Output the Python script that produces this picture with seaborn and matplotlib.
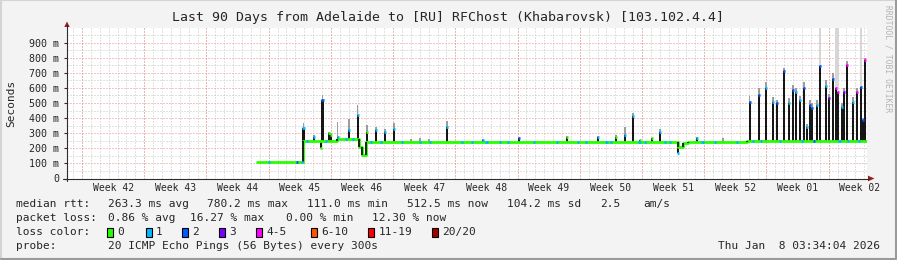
import matplotlib
matplotlib.use("Agg")
import matplotlib.pyplot as plt
from matplotlib.lines import Line2D
from matplotlib.patches import Rectangle, Polygon
import numpy as np
import pandas as pd
import seaborn as sns

# ---------------- data ----------------
title = "Last 90 Days from Adelaide to [RU] RFChost (Khabarovsk) [103.102.4.4]"

# median baseline (step function), x = days since start of the 90-day window, y = ms
base_day = [21.37, 26.50, 30.40, 32.90, 33.20, 33.65, 36.90, 68.70, 69.30, 69.86, 76.50, 89.95]
base_ms = [110, 250, 262, 209, 155, 244, 242, 209, 233, 242, 248, 248]

# spikes / dips: median peak, smoke top, loss colour index
spike_day = [26.60, 27.79, 28.57, 28.75, 29.45, 29.70, 30.45, 31.72, 32.70, 33.75, 34.76, 35.77, 36.79,
             38.70, 39.71, 40.72, 42.75, 46.80, 50.85, 56.25, 59.74, 61.76, 62.77, 63.67, 64.46, 65.81,
             66.71, 68.74, 70.87, 73.80,
             76.80, 77.85, 78.64, 79.42, 79.87, 80.66, 81.22, 81.67, 82.00, 82.46, 82.91, 83.25, 83.59,
             83.80, 84.37, 84.71, 85.39, 85.73, 86.17, 86.51, 86.73, 87.18, 87.40, 87.75, 88.42, 88.87,
             89.32, 89.55, 89.78]
spike_ms = [335, 273, 200, 520, 300, 285, 275, 320, 420, 309, 320, 309, 327,
            242, 242, 242, 340, 252, 265, 275, 273, 275, 287, 413, 253, 265,
            309, 167, 265, 242,
            509, 553, 598, 509, 500, 709, 500, 587, 575, 520, 600, 342, 487,
            470, 487, 742, 613, 533, 660, 600, 573, 473, 573, 753, 509, 575,
            609, 387, 787]
spike_smoke_ms = [370, 285, 200, 555, 310, 300, 373, 395, 490, 353, 340, 330, 370,
                  262, 265, 262, 380, 262, 270, 280, 280, 285, 342, 433, 255, 270,
                  327, 167, 275, 265,
                  545, 600, 642, 540, 520, 733, 530, 620, 600, 545, 640, 360, 520,
                  500, 520, 1000, 650, 560, 700, 1000, 1000, 500, 600, 780, 540, 600,
                  1000, 400, 800]
spike_loss = [1, 1, 0, 2, 0, 0, 1, 1, 1, 0, 1, 1, 1,
              0, 0, 0, 1, 1, 2, 0, 1, 0, 1, 1, 0, 0,
              1, 1, 1, 0,
              2, 2, 1, 1, 2, 2, 1, 2, 1, 1, 2, 1, 2,
              2, 1, 2, 1, 3, 2, 4, 4, 1, 3, 4, 1, 4,
              2, 2, 4]

# loss marks sitting on the baseline
dot_day = [22.70, 25.90, 26.40, 27.00, 29.10, 31.40, 32.20, 34.20, 35.30, 37.65, 39.70, 40.80, 44.40,
           45.60, 47.20, 48.70, 49.60, 52.50, 55.10, 57.50, 58.40, 60.70, 61.20, 64.40, 65.00, 67.30,
           67.80, 71.50, 72.90, 75.40, 77.20, 78.10, 80.20, 82.70, 84.00, 86.90, 87.90, 89.10]
dot_loss = [1, 2, 1, 1, 1, 1, 1, 1, 1, 1, 1, 1, 1,
            1, 1, 1, 1, 1, 1, 1, 1, 1, 1, 1, 1, 1,
            1, 1, 1, 1, 1, 1, 1, 1, 2, 1, 1, 1]

loss_labels = ["0", "1", "2", "3", "4-5", "6-10", "11-19", "20/20"]
loss_colors = ["#26ff00", "#00b8ff", "#0059ff", "#7e00ff", "#ff00ff", "#ff5500", "#ff0000", "#a10000"]

week_labels = ["Week 42", "Week 43", "Week 44", "Week 45", "Week 46", "Week 47", "Week 48",
               "Week 49", "Week 50", "Week 51", "Week 52", "Week 01", "Week 02"]
y_ticks_ms = [0, 100, 200, 300, 400, 500, 600, 700, 800, 900]
y_tick_labels = ["0", "100 m", "200 m", "300 m", "400 m", "500 m", "600 m", "700 m", "800 m", "900 m"]

rtt_stats = ["263.3 ms avg", "780.2 ms max", "111.0 ms min", "512.5 ms now", "104.2 ms sd", "2.5", "am/s"]
loss_stats = ["0.86 % avg", "16.27 % max", "0.00 % min", "12.30 % now"]
probe_text = "20 ICMP Echo Pings (56 Bytes) every 300s"
stamp_text = "Thu Jan  8 03:34:04 2026"

# ---------------- style ----------------
sns.set_style("white")
plt.rcParams['font.family'] = ['DejaVu Sans Mono']

W, H = 897, 260
fig = plt.figure(figsize=(W / 100, H / 100), dpi=100)
fig.patch.set_facecolor('#f3f3f3')


def fx(px):
    return px / W


def fy(py):
    return 1 - py / H


ax = fig.add_axes([fx(67), fy(178.5), 800 / W, 151 / H])
ax.set_facecolor('white')
ax.set_xlim(0, 90)
ax.set_ylim(0, 1000)
for s in ax.spines.values():
    s.set_visible(False)

# grid
day0 = 1.69
minor_days = [day0 - 1 + k for k in range(0, 92) if 0 < day0 - 1 + k < 90]
week_bounds = [day0 + 7 * k for k in range(13)]
dots = (0, (1, 2))
ax.vlines(minor_days, 0, 1000, colors='#c4c4c4', lw=0.72, linestyles=dots, zorder=0)
ax.hlines([v + 50 for v in y_ticks_ms], 0, 90, colors='#c4c4c4', lw=0.72, linestyles=dots, zorder=0)
ax.vlines(week_bounds, 0, 1000, colors='#f28c8c', lw=0.72, linestyles=dots, zorder=1)
ax.hlines(y_ticks_ms[1:], 0, 90, colors='#f28c8c', lw=0.72, linestyles=dots, zorder=1)

bd = np.array(base_day)
bm = np.array(base_ms, dtype=float)


def base_at(d):
    i = np.searchsorted(bd, d, side='right') - 1
    return bm[np.clip(i, 0, len(bm) - 1)]


sd = np.array(spike_day)
st = np.array(spike_ms, dtype=float)
ss = np.array(spike_smoke_ms, dtype=float)
sl = np.array(spike_loss)
sb = base_at(sd)

# smoke above the median peaks
lo = np.maximum(st, sb)
smoke_cols = np.array(['#d6d6d6' if v >= 1000 else '#9c9c9c' for v in ss])
m = ss > lo
ax.bar(sd[m], (ss - lo)[m], bottom=lo[m], width=0.17, color=list(smoke_cols[m]), linewidth=0, zorder=2)

# dark spike columns
m2 = st != sb
ax.bar(sd[m2], (st - sb)[m2], bottom=sb[m2], width=0.26, color='#161616', linewidth=0, zorder=3)

# median baseline drawn through seaborn
df = pd.DataFrame({'day': base_day, 'ms': base_ms})
sns.lineplot(data=df, x='day', y='ms', ax=ax, drawstyle='steps-post', color=loss_colors[0],
             linewidth=2.0, estimator=None, legend=False, zorder=4)

# dark vertical connectors where the baseline level changes
ax.vlines(bd[1:], bm[:-1], bm[1:], colors='#161616', lw=1.3, zorder=4.5)

# coloured median marks at spike tops
ax.hlines(st[m2], sd[m2] - 0.13, sd[m2] + 0.13, colors=[loss_colors[i] for i in sl[m2]], lw=2.0, zorder=5)

# loss marks on the baseline
dd = np.array(dot_day)
ax.hlines(base_at(dd), dd - 0.13, dd + 0.13, colors=[loss_colors[i] for i in dot_loss], lw=2.0, zorder=5)

ax.set_xlabel('')
ax.set_ylabel('')
ax.set_yticks(y_ticks_ms)
ax.set_yticklabels(y_tick_labels, fontsize=7.2)
ax.tick_params(axis='y', length=2, width=0.8, color='#2c2c2c', pad=3.6, left=True)
ax.set_xticks([b + 3.5 for b in week_bounds])
ax.set_xticklabels(week_labels, fontsize=7)
ax.tick_params(axis='x', length=0, pad=3.2)

# axes lines and arrows
fig.add_artist(Line2D([fx(67), fx(67)], [fy(181), fy(25)], color='#2c2c2c', lw=0.8))
fig.add_artist(Line2D([fx(63), fx(869)], [fy(178.5), fy(178.5)], color='#2c2c2c', lw=0.8))
fig.add_artist(Polygon([[fx(64.3), fy(27)], [fx(69.7), fy(27)], [fx(67), fy(21.5)]], closed=True,
                       facecolor='#9b1c1c', edgecolor='none'))
fig.add_artist(Polygon([[fx(868), fy(175.7)], [fx(868), fy(181.3)], [fx(874.5), fy(178.5)]], closed=True,
                       facecolor='#9b1c1c', edgecolor='none'))

# frame
fig.add_artist(Line2D([0.001, 0.001, 0.999], [0.0, 0.999, 0.999], color='#d4d4d4', lw=1.5))
fig.add_artist(Line2D([0.001, 0.999, 0.999], [0.002, 0.002, 0.999], color='#9a9a9a', lw=1.5))

# texts
fig.text(fx(448), fy(18), title, ha='center', va='center', fontsize=9.5)
fig.text(fx(11), fy(103), 'Seconds', rotation=90, ha='center', va='center', fontsize=8)
fig.text(fx(887.5), fy(5), 'RRDTOOL / TOBI OETIKER', rotation=270, ha='center', va='top',
         fontsize=5.8, color='#b4b4b4')

fs = 8.0
y1, y2, y3, y4 = 204, 218, 232, 246
fig.text(fx(16), fy(y1), 'median rtt:', va='center', fontsize=fs)
for s, x in zip(rtt_stats, [107.5, 207, 307, 407, 507, 600, 643]):
    fig.text(fx(x), fy(y1), s, va='center', fontsize=fs)
fig.text(fx(16), fy(y2), 'packet loss:', va='center', fontsize=fs)
for s, x in zip(loss_stats, [107.5, 190, 286, 372]):
    fig.text(fx(x), fy(y2), s, va='center', fontsize=fs)
fig.text(fx(16), fy(y3), 'loss color:', va='center', fontsize=fs)
for lab, col, x in zip(loss_labels, loss_colors, [106.5, 145.5, 182, 219, 256, 311, 368, 432]):
    fig.add_artist(Rectangle((fx(x), fy(y3 + 4.5)), 6 / W, 9 / H, transform=fig.transFigure,
                             facecolor=col, edgecolor='black', lw=0.8))
    fig.text(fx(x + 10.5), fy(y3), lab, va='center', fontsize=fs)
fig.text(fx(16), fy(y4), 'probe:', va='center', fontsize=fs)
fig.text(fx(107.5), fy(y4), probe_text, va='center', fontsize=fs)
fig.text(fx(880), fy(y4), stamp_text, va='center', ha='right', fontsize=fs)

fig.savefig('out.png', dpi=100, facecolor=fig.get_facecolor())
